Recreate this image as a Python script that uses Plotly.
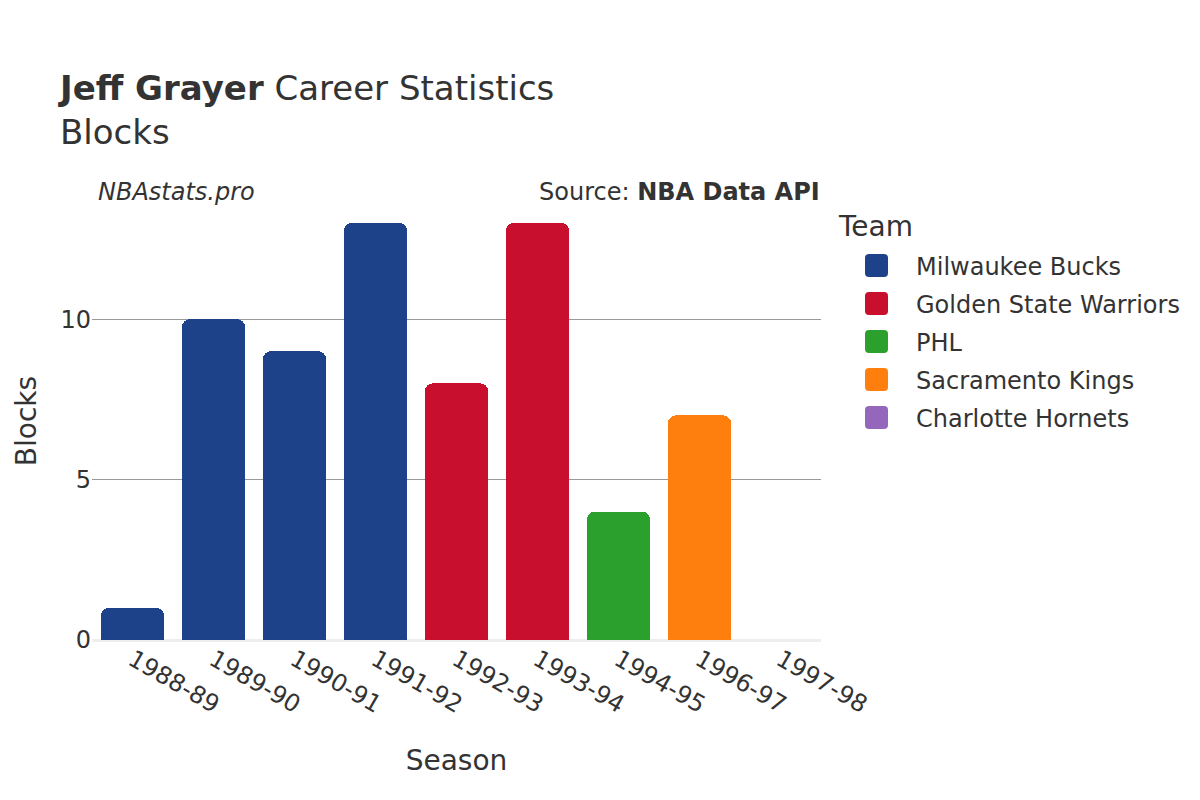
import plotly.graph_objects as go

seasons = ["1988-89", "1989-90", "1990-91", "1991-92", "1992-93", "1993-94", "1994-95", "1996-97", "1997-98"]
teams = ["Milwaukee Bucks", "Golden State Warriors", "PHL", "Sacramento Kings", "Charlotte Hornets"]
team_seasons = {
    "Milwaukee Bucks": ["1988-89", "1989-90", "1990-91", "1991-92"],
    "Golden State Warriors": ["1992-93", "1993-94"],
    "PHL": ["1994-95"],
    "Sacramento Kings": ["1996-97"],
    "Charlotte Hornets": ["1997-98"],
}
team_blocks = {
    "Milwaukee Bucks": [1, 10, 9, 13],
    "Golden State Warriors": [8, 13],
    "PHL": [4],
    "Sacramento Kings": [7],
    "Charlotte Hornets": [0],
}
team_colors = {
    "Milwaukee Bucks": "#1d428a",
    "Golden State Warriors": "#c8102e",
    "PHL": "#2ca02c",
    "Sacramento Kings": "#ff7f0e",
    "Charlotte Hornets": "#9467bd",
}

font = "DejaVu Sans"
W, H = 1200, 800
ML, MR, MT, MB = 84, 387, 194, 168
PW, PH = W - ML - MR, H - MT - MB

fig = go.Figure()
for t in teams:
    fig.add_trace(go.Bar(x=team_seasons[t], y=team_blocks[t], name=t, legendgroup=t,
                         marker=dict(color=team_colors[t], line=dict(width=0))))

# larger rounded legend swatches drawn under plotly's small legend symbols
def px_to_paper(xp, yp):
    return (xp - ML) / PW, (H - MB - yp) / PH

def rounded_square(cx, cy, half, r):
    x0, x1, y0, y1 = cx - half, cx + half, cy - half, cy + half
    pts = [
        ("M", x0 + r, y0), ("L", x1 - r, y0), ("Q", x1, y0, x1, y0 + r),
        ("L", x1, y1 - r), ("Q", x1, y1, x1 - r, y1), ("L", x0 + r, y1),
        ("Q", x0, y1, x0, y1 - r), ("L", x0, y0 + r), ("Q", x0, y0, x0 + r, y0),
    ]
    s = ""
    for p in pts:
        if p[0] == "Q":
            a = px_to_paper(p[1], p[2]); b = px_to_paper(p[3], p[4])
            s += f"Q{a[0]:.5f},{a[1]:.5f} {b[0]:.5f},{b[1]:.5f} "
        else:
            a = px_to_paper(p[1], p[2])
            s += f"{p[0]}{a[0]:.5f},{a[1]:.5f} "
    return s + "Z"

LEG_LEFT = 829
ITEMW = 69
shapes = []
for i, t in enumerate(teams):
    cx = LEG_LEFT + 5 + ITEMW / 2
    cy = 257.5 + 38 * i
    shapes.append(dict(type="path", xref="paper", yref="paper", layer="above",
                       path=rounded_square(cx, cy, 11.5, 4),
                       fillcolor=team_colors[t], line=dict(width=0)))

fig.update_layout(
    width=W, height=H,
    barmode="stack", bargap=0.22, barcornerradius=8,
    plot_bgcolor="white", paper_bgcolor="white",
    font=dict(family=font, color="#333333", size=24),
    title=dict(text="<b>Jeff Grayer</b> Career Statistics<br>Blocks",
               x=52 / W, xanchor="left", y=0.885, yanchor="top",
               font=dict(size=34, family=font, color="#333333")),
    margin=dict(l=ML, r=MR, t=MT, b=MB),
    legend=dict(font=dict(size=24),
                x=(LEG_LEFT - ML) / PW, y=0.9053, xanchor="left", yanchor="top",
                bgcolor="rgba(0,0,0,0)",
                traceorder="grouped", tracegroupgap=3.7, itemwidth=ITEMW),
    xaxis=dict(title=dict(text="Season", font=dict(size=28), standoff=32), tickangle=30,
               categoryorder="array", categoryarray=seasons, automargin=False,
               tickfont=dict(size=24), showgrid=False, zeroline=False),
    yaxis=dict(title=dict(text="Blocks", font=dict(size=28)), tickvals=[0, 5, 10],
               tickfont=dict(size=24), gridcolor="#999999", gridwidth=1, automargin=False,
               zeroline=True, zerolinecolor="#eeeeee", zerolinewidth=3,
               range=[0, 13.65]),
    shapes=shapes,
    annotations=[
        dict(text="Team", xref="paper", yref="paper", x=1.0206, y=0.943,
             xanchor="left", yanchor="middle", showarrow=False,
             font=dict(size=28, family=font, color="#333333")),
        dict(text="<i>NBAstats.pro</i>", xref="paper", yref="paper", x=0.0055, y=0.987,
             xanchor="left", yanchor="bottom", showarrow=False,
             font=dict(size=24, family=font, color="#333333")),
        dict(text="Source: <b>NBA Data API</b>", xref="paper", yref="paper", x=1.0014, y=0.987,
             xanchor="right", yanchor="bottom", showarrow=False,
             font=dict(size=24, family=font, color="#333333")),
    ],
)
fig.write_html("out.html")
